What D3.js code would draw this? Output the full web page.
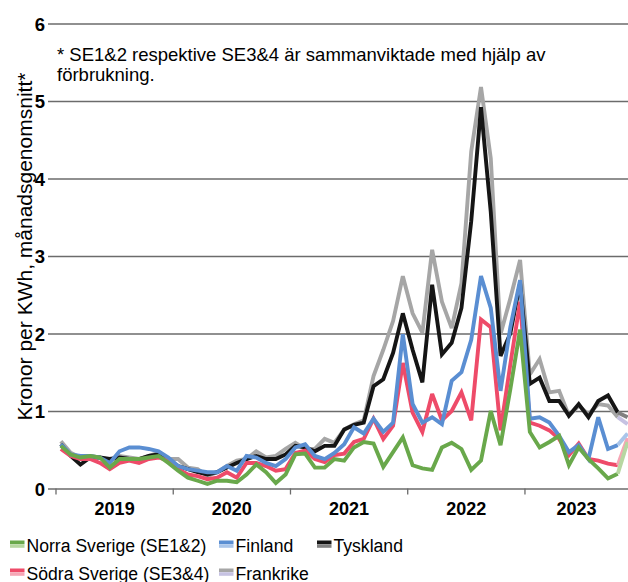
<!DOCTYPE html>
<html><head><meta charset="utf-8">
<script src="https://cdn.jsdelivr.net/npm/d3@7"></script>
<style>
html,body{margin:0;padding:0;background:#fff;}
svg{display:block;font-family:"Liberation Sans",Arial,sans-serif;}
</style></head>
<body>
<svg id="c" width="628" height="582"></svg>
<script>
const years = ["2019","2020","2021","2022","2023"];
const yTicks = [0,1,2,3,4,5,6];
const seriesNames = ["Norra Sverige (SE1&2)","Finland","Tyskland","Södra Sverige (SE3&4)","Frankrike"];

const norra = [0.55,0.44,0.40,0.42,0.40,0.27,0.38,0.38,0.38,0.40,0.42,0.33,
  0.23,0.14,0.10,0.06,0.10,0.10,0.08,0.18,0.31,0.21,0.07,0.18,
  0.44,0.45,0.27,0.27,0.38,0.36,0.53,0.60,0.58,0.28,0.47,0.66,
  0.30,0.26,0.24,0.53,0.59,0.51,0.24,0.36,1.00,0.56,1.28,2.05,
  0.73,0.53,0.60,0.68,0.30,0.53,0.38,0.26,0.13,0.19,0.60];
const sodra = [0.51,0.42,0.38,0.38,0.33,0.25,0.33,0.36,0.33,0.38,0.40,0.36,
  0.25,0.18,0.16,0.12,0.14,0.21,0.14,0.33,0.33,0.29,0.23,0.25,
  0.46,0.49,0.38,0.34,0.43,0.45,0.60,0.64,0.90,0.64,0.81,1.62,
  0.98,0.73,1.22,0.88,1.00,1.24,0.88,2.18,2.08,0.75,1.60,2.41,
  0.85,0.81,0.75,0.64,0.43,0.58,0.38,0.36,0.32,0.30,0.65];
const finland = [0.57,0.44,0.42,0.42,0.40,0.33,0.48,0.53,0.53,0.51,0.48,0.40,
  0.29,0.25,0.23,0.21,0.21,0.29,0.23,0.42,0.40,0.33,0.29,0.38,
  0.53,0.57,0.42,0.38,0.46,0.57,0.79,0.71,0.90,0.73,0.85,1.99,
  1.09,0.85,0.92,0.83,1.39,1.50,1.92,2.74,2.33,1.26,2.08,2.69,
  0.90,0.92,0.85,0.68,0.47,0.56,0.38,0.92,0.51,0.56,0.71];
const tyskland = [0.57,0.42,0.31,0.40,0.40,0.38,0.40,0.38,0.38,0.42,0.44,0.36,
  0.29,0.25,0.21,0.18,0.21,0.27,0.33,0.38,0.42,0.38,0.38,0.44,
  0.55,0.53,0.48,0.55,0.55,0.76,0.82,0.85,1.32,1.41,1.75,2.26,
  1.79,1.37,2.63,1.73,1.88,2.33,3.45,4.92,3.57,1.71,2.00,2.65,
  1.35,1.43,1.13,1.13,0.94,1.09,0.92,1.13,1.20,0.98,0.92];
const frankrike = [0.61,0.46,0.40,0.42,0.40,0.36,0.42,0.40,0.38,0.42,0.46,0.38,
  0.38,0.27,0.25,0.16,0.21,0.29,0.36,0.38,0.48,0.40,0.42,0.51,
  0.59,0.51,0.51,0.64,0.59,0.76,0.83,0.88,1.45,1.79,2.16,2.74,
  2.26,2.01,3.08,2.41,2.07,2.65,4.35,5.18,4.26,1.99,2.45,2.95,
  1.47,1.67,1.24,1.26,0.94,1.07,0.96,1.09,1.07,0.92,0.83];

const months = [];
years.forEach(y => { for (let m = 1; m <= 12; m++) months.push(y + "-" + String(m).padStart(2,"0")); });
const cats = months.slice(0, norra.length);

const W = 628, H = 582;
const svg = d3.select("#c");
const x = d3.scaleBand().domain(cats).range([56, 56 + 9.77 * cats.length]).padding(0);
const cx = d => x(d) + x.bandwidth() / 2;
const y = d3.scaleLinear().domain([0, 6]).range([488.5, 23.5]);

// gridlines + y labels
const ya = svg.append("g").attr("transform", "translate(48,0)")
  .call(d3.axisLeft(y).tickValues(yTicks).tickFormat(d3.format("d")).tickSize(-(W - 48)).tickPadding(3));
ya.select(".domain").remove();
ya.selectAll(".tick line").attr("stroke", "#6b6b6b").attr("stroke-width", 1.4);
ya.selectAll(".tick text").attr("fill", "#000").attr("font-size", "18.5px").attr("font-weight", "bold")
  .attr("font-family", "Liberation Sans, Arial, sans-serif").attr("dy", "0.36em");

// x axis ticks
const xa = svg.append("g").attr("transform", "translate(0,488.5)");
const yearStarts = years.map((yr, k) => cats[k * 12]);
xa.selectAll("line.t").data(yearStarts).join("line").attr("class", "t")
  .attr("x1", d => x(d)).attr("x2", d => x(d)).attr("y1", 0).attr("y2", 6)
  .attr("stroke", "#6b6b6b").attr("stroke-width", 1.3);
xa.selectAll("text").data(years).join("text")
  .attr("x", (yr, k) => {
    const a = x(cats[k * 12]);
    const lastIdx = Math.min(k * 12 + 11, cats.length - 1);
    const b = Math.min(x(cats[lastIdx]) + x.bandwidth(), W);
    return (a + b) / 2;
  })
  .attr("y", 26).attr("text-anchor", "middle").attr("font-size", "18px").attr("font-weight", "bold")
  .text(d => d);

// y axis title
svg.append("text").attr("transform", "translate(31.5,246.5) rotate(-90)")
  .attr("text-anchor", "middle").attr("font-size", "21px").attr("fill", "#000")
  .text("Kronor per KWh, månadsgenomsnitt*");

// annotation
const ann = svg.append("text").attr("font-size", "18.5px").attr("fill", "#000");
ann.append("tspan").attr("x", 57).attr("y", 61).text("* SE1&2 respektive SE3&4 är sammanviktade med hjälp av");
ann.append("tspan").attr("x", 57).attr("y", 81).text("förbrukning.");

// series
const series = [
  {name: seriesNames[4], vals: frankrike, dark: "#a6a6a6", light: "#c6c2e2"},
  {name: seriesNames[2], vals: tyskland, dark: "#151515", light: "#808080"},
  {name: seriesNames[3], vals: sodra, dark: "#ee4b69", light: "#f6a6b5"},
  {name: seriesNames[1], vals: finland, dark: "#5a8ed2", light: "#a9c5ea"},
  {name: seriesNames[0], vals: norra, dark: "#69a84b", light: "#b7d7a1"}
];
const line = d3.line().x(d => cx(d.c)).y(d => y(d.v));
const plot = svg.append("g");
series.forEach(s => {
  const pts = s.vals.map((v, i) => ({c: cats[i], v}));
  const n = pts.length;
  plot.append("path").attr("d", line(pts.slice(0, n - 1))).attr("fill", "none")
    .attr("stroke", s.dark).attr("stroke-width", 3.9).attr("stroke-linejoin", "miter").attr("stroke-miterlimit", 3);
  plot.append("path").attr("d", line(pts.slice(n - 2))).attr("fill", "none")
    .attr("stroke", s.light).attr("stroke-width", 3.9);
});

// legend
const legendItems = [
  {s: series[4], x: 10, y: 552},
  {s: series[3], x: 219, y: 552},
  {s: series[1], x: 317, y: 552},
  {s: series[2], x: 10, y: 580},
  {s: series[0], x: 219, y: 580}
];
const lg = svg.append("g");
legendItems.forEach(it => {
  const g = lg.append("g");
  g.append("rect").attr("x", it.x).attr("y", it.y - 11.5).attr("width", 14.5).attr("height", 3.6).attr("fill", it.s.dark);
  g.append("rect").attr("x", it.x).attr("y", it.y - 7.8).attr("width", 14.5).attr("height", 3.6).attr("fill", it.s.light);
  g.append("text").attr("x", it.x + 16.5).attr("y", it.y).attr("font-size", "17.6px").attr("fill", "#000").text(it.s.name);
});
</script>
</body></html>
